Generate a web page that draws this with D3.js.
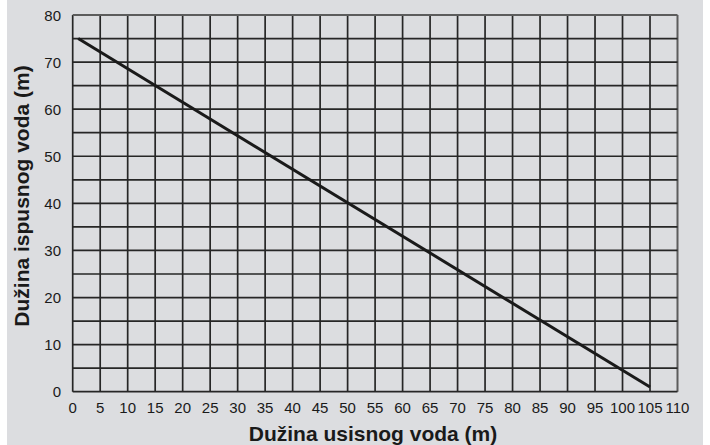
<!DOCTYPE html>
<html><head><meta charset="utf-8">
<script src="https://cdn.jsdelivr.net/npm/d3@7"></script>
<style>body{margin:0;background:#fff;} svg{display:block;}</style>
</head><body>
<script>
const xTicks = d3.range(0, 111, 5);
const yGrid = d3.range(0, 81, 5);
const yTicks = d3.range(0, 81, 10);
const lineX = [1, 105];
const lineY = [75, 1];
const xTitle = "Dužina usisnog voda (m)";
const yTitle = "Dužina ispusnog voda (m)";

const W = 710, H = 445;
const svg = d3.select("body").append("svg").attr("width", W).attr("height", H);
svg.append("rect").attr("x", 7).attr("y", 0).attr("width", 696).attr("height", H).attr("fill", "#dcdde0");

const x = d3.scaleLinear().domain([0, 110]).range([72.7, 677.5]);
const y = d3.scaleLinear().domain([0, 80]).range([391.7, 15]);
const font = "'Liberation Sans', Arial, sans-serif";

const g = svg.append("g");
g.selectAll("line.vx").data(xTicks).join("line")
  .attr("x1", d => x(d)).attr("x2", d => x(d)).attr("y1", y(0)).attr("y2", y(80))
  .attr("stroke", d => (d === 110) ? "#5c5c5c" : "#262626").attr("stroke-width", d => d === 110 ? 2 : 1.7);
g.selectAll("line.hy").data(yGrid).join("line")
  .attr("x1", x(0)).attr("x2", x(110)).attr("y1", d => y(d)).attr("y2", d => y(d))
  .attr("stroke", d => (d === 80) ? "#5c5c5c" : "#262626").attr("stroke-width", d => d === 80 ? 2 : 1.7);

const pts = lineX.map((d, i) => [d, lineY[i]]);
svg.append("path").datum(pts)
  .attr("d", d3.line().x(d => x(d[0])).y(d => y(d[1])))
  .attr("stroke", "#1a1a1a").attr("stroke-width", 3).attr("fill", "none");

svg.selectAll("text.xt").data(xTicks).join("text")
  .attr("x", d => x(d)).attr("y", 413).attr("text-anchor", "middle")
  .attr("font-family", font).attr("font-size", 15).attr("fill", "#1a1a1a").text(d => d);
svg.selectAll("text.yt").data(yTicks).join("text")
  .attr("x", 61).attr("y", d => y(d) + 5.5).attr("text-anchor", "end")
  .attr("font-family", font).attr("font-size", 15).attr("fill", "#1a1a1a").text(d => d);

svg.append("text").attr("x", 373).attr("y", 441).attr("text-anchor", "middle")
  .attr("font-family", font).attr("font-weight", "bold").attr("font-size", 21).attr("fill", "#1a1a1a").text(xTitle);
svg.append("text").attr("transform", "translate(29,196) rotate(-90)").attr("text-anchor", "middle")
  .attr("font-family", font).attr("font-weight", "bold").attr("font-size", 21).attr("fill", "#1a1a1a").text(yTitle);
</script>
</body></html>
